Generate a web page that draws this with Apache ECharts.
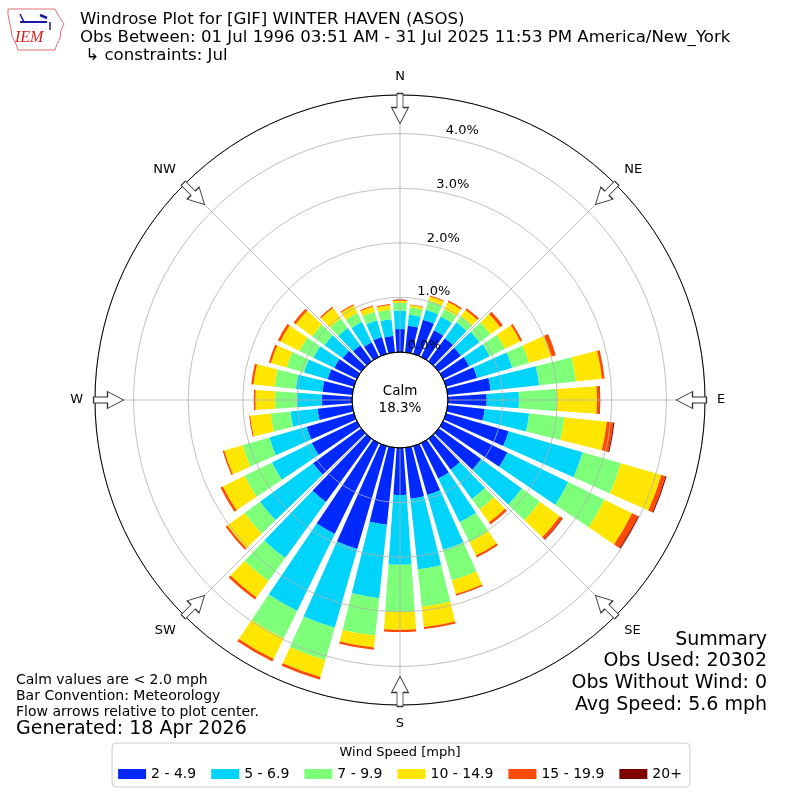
<!DOCTYPE html>
<html><head><meta charset="utf-8">
<script src="https://cdn.jsdelivr.net/npm/echarts/dist/echarts.min.js"></script>
<style>html,body{margin:0;padding:0;background:#fff}#c{width:800px;height:800px}</style>
</head><body><div id="c"></div>
<script>
// ---- data ----
const directions = ['0','10','20','30','40','50','60','70','80','90','100','110','120','130','140','150','160','170',
  '180','190','200','210','220','230','240','250','260','270','280','290','300','310','320','330','340','350'];
const speedBins = ['2 - 4.9','5 - 6.9','7 - 9.9','10 - 14.9','15 - 19.9','20+'];
const bin2to5 = [0.42,0.49,0.65,0.54,0.52,0.50,0.53,0.59,0.79,0.71,0.68,1.19,1.31,0.96,0.70,0.72,0.93,0.94,
  0.86,1.42,1.96,1.85,1.43,1.09,0.92,0.90,0.64,0.555,0.55,0.50,0.46,0.42,0.36,0.30,0.32,0.30];
const bin5to7 = [0.34,0.20,0.19,0.28,0.36,0.42,0.42,0.67,0.895,0.59,0.82,1.41,1.24,0.92,0.66,0.89,1.05,1.30,
  1.28,1.35,1.50,1.57,1.27,1.20,0.81,0.71,0.50,0.455,0.49,0.45,0.425,0.41,0.39,0.41,0.32,0.31];
const bin7to10 = [0.14,0.14,0.17,0.15,0.14,0.25,0.31,0.32,0.675,0.70,0.65,0.73,0.74,0.41,0.24,0.41,0.58,0.69,
  0.86,0.69,0.62,0.56,0.52,0.35,0.56,0.51,0.36,0.40,0.39,0.33,0.285,0.28,0.215,0.185,0.16,0.175];
const bin10to15 = [0.04,0.04,0.085,0.15,0.14,0.22,0.31,0.43,0.48,0.73,0.78,0.77,0.56,0.45,0.29,0.27,0.26,0.37,
  0.33,0.22,0.32,0.42,0.37,0.39,0.44,0.35,0.38,0.36,0.39,0.30,0.39,0.37,0.24,0.155,0.10,0.085];
const bin15to20 = [0.015,0.01,0.015,0.03,0.04,0.06,0.04,0.08,0.05,0.05,0.12,0.08,0.12,0.06,0.05,0.04,0.03,0.04,
  0.04,0.04,0.05,0.05,0.05,0.04,0.05,0.03,0.02,0.03,0.04,0.04,0.05,0.05,0.025,0.02,0.02,0.02];
const bin20plus = [0,0,0,0,0,0,0,0,0,0.01,0.02,0.02,0.02,0.01,0,0,0,0,
  0,0,0,0,0,0,0,0,0,0,0,0,0,0,0,0,0,0];
const ringValues = [0,1,2,3,4];
const ringLabels = ['0.0%','1.0%','2.0%','3.0%','4.0%'];
const compassLabels = ['N','NE','E','SE','S','SW','W','NW'];
const arrowDirs = [0,45,90,135,180,225,270,315];
const calmText = 'Calm\n18.3%';

// ---- styles ----
const binValues = [bin2to5, bin5to7, bin7to10, bin10to15, bin15to20, bin20plus];
const colors = ['#0028ff','#00d4fa','#7dff7a','#ffe600','#ff4a00','#7f0000'];
const FONT = '"DejaVu Sans", sans-serif';
const RMAX = 4.707;
const ARROW_R = 4.46;

const chart = echarts.init(document.getElementById('c'), null, {renderer:'canvas'});

const barSeries = speedBins.map((name, i) => ({
  type: 'bar', name, coordinateSystem: 'polar', polarIndex: 0, stack: 'wind',
  data: binValues[i], barCategoryGap: '20%', itemStyle: {color: colors[i]}, z: 2, silent: true
}));

const option = {
  animation: false,
  textStyle: {fontFamily: FONT},
  polar: [
    {center: ['50%','50%'], radius: [48, 305]},
    {center: ['50%','50%'], radius: [48, 305]},
    {center: ['50%','50%'], radius: 48}
  ],
  angleAxis: [
    {polarIndex: 0, type: 'category', data: directions, startAngle: 95, clockwise: true, show: false},
    {polarIndex: 1, type: 'value', min: 0, max: 360, interval: 45, startAngle: 90, clockwise: true, z: 3,
      axisLine: {show: true, lineStyle: {color: '#000', width: 1}},
      axisTick: {show: false},
      axisLabel: {show: true, margin: 12, fontSize: 13, color: '#000', fontFamily: FONT,
        formatter: v => (v < 360 ? compassLabels[Math.round(v / 45)] : '')},
      splitLine: {show: true, lineStyle: {color: '#b0b0b0', width: 0.8}}},
    {polarIndex: 2, type: 'value', min: 0, max: 360, startAngle: 90, z: 4,
      axisLine: {show: true, lineStyle: {color: '#000', width: 1}},
      axisTick: {show: false}, axisLabel: {show: false}, splitLine: {show: false}}
  ],
  radiusAxis: [
    {polarIndex: 0, type: 'value', min: 0, max: RMAX, show: false},
    {polarIndex: 1, type: 'value', min: 0, max: RMAX, interval: 1, z: 3,
      axisLine: {show: false}, axisTick: {show: false}, axisLabel: {show: false},
      splitLine: {show: true, lineStyle: {color: '#b0b0b0', width: 0.8}}},
    {polarIndex: 2, type: 'value', min: 0, max: 1, show: false}
  ],
  legend: {
    data: speedBins, left: 'center', top: 743, orient: 'horizontal',
    itemWidth: 28, itemHeight: 10, itemGap: 15, icon: 'rect',
    padding: [24, 8, 6, 6], borderColor: '#cccccc', borderWidth: 1, borderRadius: 4,
    backgroundColor: '#fff',
    textStyle: {fontSize: 14, color: '#000', fontFamily: FONT},
    selectedMode: false
  },
  series: [
    ...barSeries,
    {type: 'scatter', coordinateSystem: 'polar', polarIndex: 1, z: 6, silent: true,
      symbol: 'path://M5.5,0 L11.5,0 L11.5,14 L17,14 L8.5,30 L0,14 L5.5,14 Z',
      symbolSize: [17, 30], symbolKeepAspect: false,
      itemStyle: {color: '#fff', borderColor: '#333', borderWidth: 1, opacity: 1},
      data: arrowDirs.map(d => ({value: [ARROW_R, d], symbolRotate: -d}))},
    {type: 'scatter', coordinateSystem: 'polar', polarIndex: 1, zlevel: 1, z: 7, silent: true,
      symbolSize: 1, itemStyle: {color: 'rgba(255,255,255,0)', opacity: 1},
      data: ringValues.map(v => [v, 10]),
      label: {show: true, position: [0, 0], align: 'left', verticalAlign: 'bottom',
        fontSize: 13, color: '#000', opacity: 1, textBorderWidth: 0, fontFamily: FONT,
        formatter: p => ringLabels[p.dataIndex]}},
    {type: 'scatter', coordinateSystem: 'polar', polarIndex: 2, zlevel: 1, z: 7, silent: true,
      symbolSize: 1, itemStyle: {color: 'rgba(255,255,255,0)', opacity: 1},
      data: [[0, 0]],
      label: {show: true, position: 'inside', formatter: calmText, fontSize: 13.5, lineHeight: 17,
        color: '#000', opacity: 1, textBorderWidth: 0, fontFamily: FONT, align: 'center'}}
  ],
  graphic: [
    // IEM logo (approximation)
    {type: 'polygon', shape: {points: [[8,9],[55,9],[57,13],[60,18],[64,24],[61,30],[60,38],[57,44],[55,50],[18,50],[16,44],[12,36],[10,24],[8,15]]},
      style: {fill: '#fff', stroke: '#e07070', lineWidth: 1}},
    {type: 'line', shape: {x1: 20, y1: 22, x2: 47, y2: 22}, style: {stroke: '#1a1aa8', lineWidth: 2}},
    {type: 'line', shape: {x1: 20, y1: 14, x2: 24, y2: 22}, style: {stroke: '#1a1aa8', lineWidth: 1.5}},
    {type: 'line', shape: {x1: 40, y1: 15, x2: 47, y2: 18}, style: {stroke: '#1a1aa8', lineWidth: 2.5}},
    {type: 'line', shape: {x1: 50, y1: 22, x2: 50, y2: 30}, style: {stroke: '#1a1aa8', lineWidth: 1.5}},
    {type: 'text', style: {text: 'IEM', x: 15, y: 30, fill: '#d42020', font: 'italic 16px "Liberation Serif", serif'}},
    // title
    {type: 'text', style: {text: 'Windrose Plot for [GIF] WINTER HAVEN (ASOS)\nObs Between: 01 Jul 1996 03:51 AM - 31 Jul 2025 11:53 PM America/New_York\n \u21b3 constraints: Jul',
      x: 80, y: 11, fill: '#000', font: '16.6px ' + FONT, lineHeight: 18, align: 'left', verticalAlign: 'top'}},
    // bottom-left notes
    {type: 'text', style: {text: 'Calm values are < 2.0 mph\nBar Convention: Meteorology\nFlow arrows relative to plot center.',
      x: 16, y: 672, fill: '#000', font: '14px ' + FONT, lineHeight: 16, align: 'left', verticalAlign: 'top'}},
    {type: 'text', style: {text: 'Generated: 18 Apr 2026', x: 16, y: 718, fill: '#000', font: '19px ' + FONT,
      lineHeight: 22, align: 'left', verticalAlign: 'top'}},
    // summary
    {type: 'text', style: {text: 'Summary\nObs Used: 20302\nObs Without Wind: 0\nAvg Speed: 5.6 mph',
      x: 767, y: 629, fill: '#000', font: '19px ' + FONT, lineHeight: 21.7, align: 'right', verticalAlign: 'top'}},
    // legend title
    {type: 'text', z: 100, style: {text: 'Wind Speed [mph]', x: 400, y: 753, fill: '#000', font: '13px ' + FONT,
      align: 'center', verticalAlign: 'middle'}}
  ]
};
chart.setOption(option);
</script>
</body></html>
